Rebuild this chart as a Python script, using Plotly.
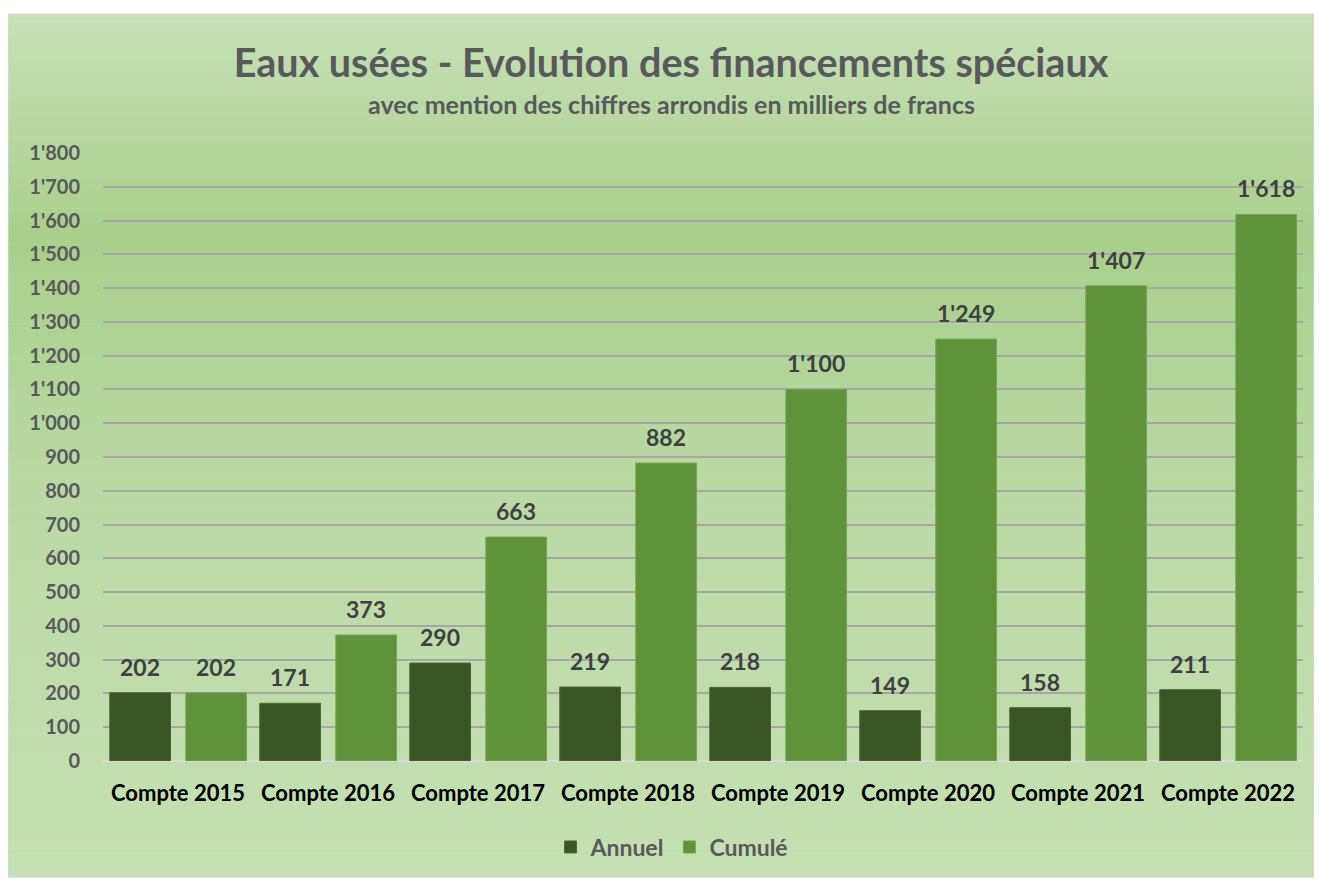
import plotly.graph_objects as go

categories = ["Compte 2015", "Compte 2016", "Compte 2017", "Compte 2018",
              "Compte 2019", "Compte 2020", "Compte 2021", "Compte 2022"]
annuel = [202, 171, 290, 219, 218, 149, 158, 211]
cumule = [202, 373, 663, 882, 1100, 1249, 1407, 1618]
tick_vals = list(range(0, 1801, 100))

# page offset of the figure div (body margin)
OX, OY = 8, 8
W, H = 1314, 871
# plot area in page pixels: x 103..1303, y 153..761
L = 103 - OX
R = W - (1303 - OX)
T = 153 - OY
B = H - (761 - OY)
pw, ph = W - L - R, H - T - B
cat_px = pw / len(categories)

def px_x(px):
    return (px - OX - L) / pw

def px_y(py):
    return (H - B - (py - OY)) / ph

FONT = "Lato"
BOLD = "bold"

BW = 0.405
OFF_A, OFF_C = -0.455, 0.052

fig = go.Figure()
fig.add_trace(go.Bar(name="Annuel", x=categories, y=annuel, width=BW, offset=OFF_A,
                     marker=dict(color="#375623", line=dict(color="#4a6b36", width=1))))
fig.add_trace(go.Bar(name="Cumulé", x=categories, y=cumule, width=BW, offset=OFF_C,
                     marker=dict(color="#5e933a", line=dict(color="#75a553", width=1))))

annotations = [dict(text="avec mention des chiffres arrondis en milliers de francs",
                    xref="paper", yref="paper", x=px_x(671), y=px_y(104),
                    xanchor="center", yanchor="middle", showarrow=False,
                    font=dict(family=FONT, size=25, color="#595959", weight=BOLD))]

def fmt(v):
    return f"{v:,}".replace(",", "'")

for vals, off in ((annuel, OFF_A), (cumule, OFF_C)):
    shift = (off + BW / 2) * cat_px
    for c, v in zip(categories, vals):
        annotations.append(dict(text=fmt(v), x=c, y=v, xref="x", yref="y",
                                xshift=shift, yshift=10, yanchor="bottom",
                                xanchor="center", showarrow=False,
                                font=dict(family=FONT, size=23, color="#404040", weight=BOLD)))

# gradient background (frame)
top, bot = 14, 877
left, right = 8, 1314
stops = [(0.0, (199, 225, 182)), (0.26, (167, 208, 140)), (0.55, (185, 218, 164)), (1.0, (196, 224, 178))]

def col_at(f):
    for (f0, c0), (f1, c1) in zip(stops[:-1], stops[1:]):
        if f0 <= f <= f1:
            t = (f - f0) / (f1 - f0) if f1 > f0 else 0
            return "rgb(%d,%d,%d)" % tuple(round(a + (b - a) * t) for a, b in zip(c0, c1))
    return "rgb(%d,%d,%d)" % stops[-1][1]

shapes = []
n = 120
for i in range(n):
    y0 = top + (bot - top) * i / n
    y1 = top + (bot - top) * (i + 1) / n + 0.6
    shapes.append(dict(type="rect", xref="paper", yref="paper", layer="below",
                       x0=px_x(left), x1=px_x(right), y0=px_y(y1), y1=px_y(y0),
                       fillcolor=col_at((i + 0.5) / n), line=dict(width=0)))
shapes.append(dict(type="rect", xref="paper", yref="paper", layer="below",
                   x0=px_x(left), x1=px_x(right), y0=px_y(bot), y1=px_y(top),
                   fillcolor="rgba(0,0,0,0)", line=dict(color="#d9d9d9", width=1)))

fig.update_layout(
    width=W, height=H,
    margin=dict(l=L, r=R, t=T, b=B, autoexpand=False),
    paper_bgcolor="white", plot_bgcolor="rgba(0,0,0,0)",
    separators=".'",
    barmode="group",
    shapes=shapes,
    annotations=annotations,
    title=dict(text="Eaux usées - Evolution des financements spéciaux",
               x=(671 - OX) / W, xref="container", xanchor="center",
               y=1 - (63 - OY) / H, yref="container", yanchor="middle",
               font=dict(family=FONT, size=39.5, color="#595959", weight=BOLD)),
    showlegend=True,
    legend=dict(orientation="h", x=px_x(672), xanchor="center", y=px_y(847), yanchor="middle",
                font=dict(family=FONT, size=23, color="#595959", weight=BOLD),
                bgcolor="rgba(0,0,0,0)", itemwidth=30, traceorder="normal"),
    xaxis=dict(tickfont=dict(family=FONT, size=22, color="#000000", weight=BOLD), showgrid=False,
               ticks="", showline=False, ticklabelstandoff=17),
    yaxis=dict(range=[0, 1800], tickvals=tick_vals, separatethousands=True,
               tickfont=dict(family=FONT, size=20, color="#595959", weight=BOLD),
               gridcolor="#a6a6a6", gridwidth=2, zeroline=True,
               zerolinecolor="#d9d9d9", zerolinewidth=2, ticks="",
               ticklabelstandoff=22),
)

fig.write_html("out.html")
